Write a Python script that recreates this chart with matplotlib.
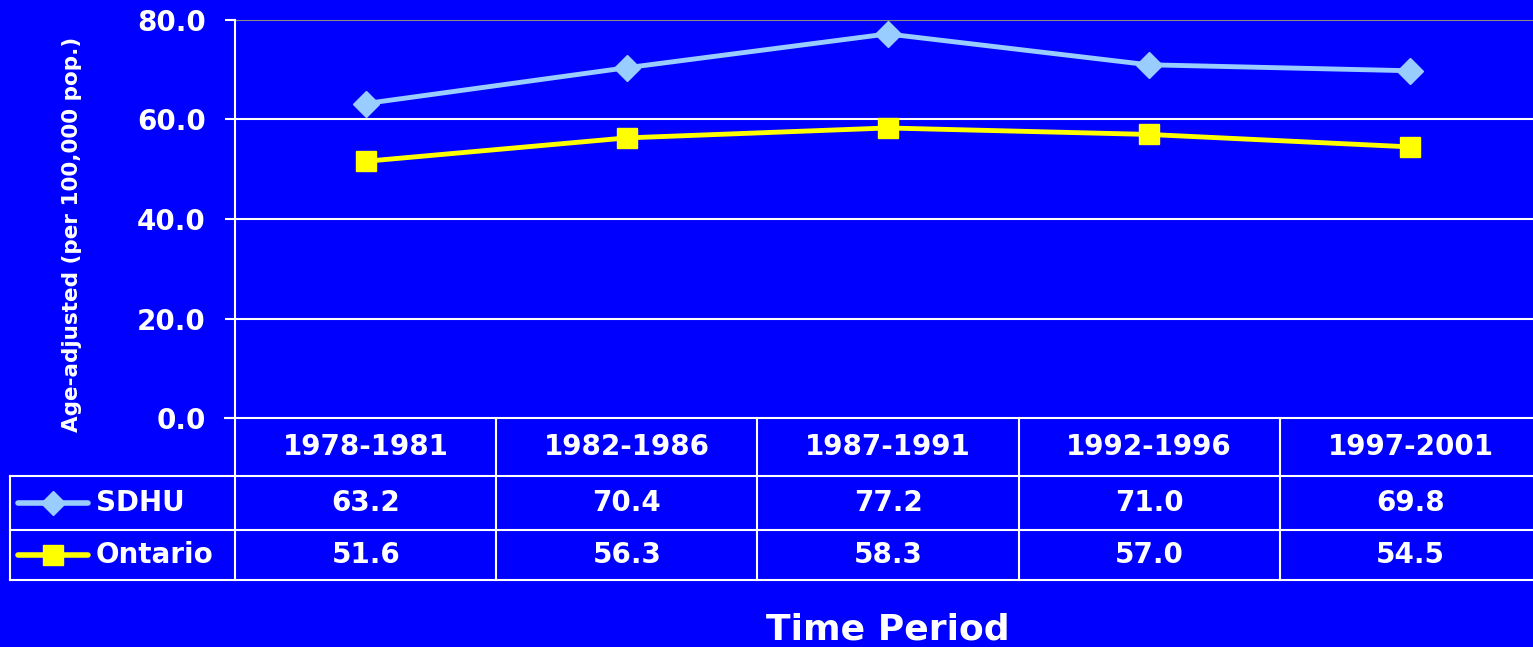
import matplotlib.pyplot as plt

plt.rcParams['font.family'] = ['DejaVu Sans']
plt.rcParams['font.weight'] = 'bold'

periods = ['1978-1981', '1982-1986', '1987-1991', '1992-1996', '1997-2001']
sdhu = [63.2, 70.4, 77.2, 71.0, 69.8]
ontario = [51.6, 56.3, 58.3, 57.0, 54.5]
series_names = ['SDHU', 'Ontario']
yticks = [0, 20, 40, 60, 80]

bg = '#0000FF'
sdhu_col = '#99CCFF'
ont_col = '#FFFF00'
W, H = 1533, 647

fig = plt.figure(figsize=(W / 100, H / 100), dpi=100, facecolor=bg)

# main plot area (right side runs slightly past the picture edge, as in the original)
ax = fig.add_axes([235 / W, (H - 418) / H, 1305 / W, 398 / H], facecolor=bg)
x = list(range(len(periods)))
ax.plot(x, sdhu, color=sdhu_col, lw=3.5, marker='D', ms=13, mec=sdhu_col, zorder=3)
ax.plot(x, ontario, color=ont_col, lw=3.5, marker='s', ms=15, mec=ont_col, zorder=3)
ax.set_xlim(-0.5, len(periods) - 0.5)
ax.set_ylim(0, 80)
ax.set_yticks(yticks)
ax.set_yticklabels([f'{v:.1f}' for v in yticks], color='white', fontsize=20, fontweight='bold')
ax.tick_params(axis='y', length=7, width=1.5, color='white', pad=14)
ax.set_xticks([])
for v in yticks[1:]:
    ax.axhline(v, color='#888888' if v == 80 else 'white', lw=1.5, zorder=1)
for s in ['top', 'right', 'bottom']:
    ax.spines[s].set_visible(False)
ax.spines['left'].set_color('white')
ax.spines['left'].set_linewidth(1.5)
fig.text(72 / W, 1 - 234 / H, 'Age-adjusted (per 100,000 pop.)', color='white',
         fontsize=15.5, fontweight='bold', rotation=90, ha='center', va='center')

# data table under the chart
tab = fig.add_axes([10 / W, (H - 580) / H, 1531 / W, 162 / H], facecolor='none')
left = -0.5 - 225 / 261
right = len(periods) - 0.5
tab.set_xlim(left, right)
rows = [0, 58, 112, 162]
tab.set_ylim(rows[-1], 0)
tab.axis('off')
lk = dict(color='white', lw=1.5, clip_on=False)
tab.plot([-0.5 - 10 / 261, right], [0, 0], **lk)
for r in rows[1:]:
    tab.plot([left, right], [r, r], **lk)
tab.plot([left, left], [rows[1], rows[-1]], **lk)
for c in range(len(periods)):
    tab.plot([c - 0.5, c - 0.5], [0, rows[-1]], **lk)

tk = dict(color='white', fontsize=20, fontweight='bold', ha='center', va='center')
for i, p in enumerate(periods):
    tab.text(i, (rows[0] + rows[1]) / 2, p, **tk)
for r, (name, vals, col, mk, ms) in enumerate([
        ('SDHU', sdhu, sdhu_col, 'D', 12), ('Ontario', ontario, ont_col, 's', 14)]):
    yc = (rows[r + 1] + rows[r + 2]) / 2
    for i, v in enumerate(vals):
        tab.text(i, yc, f'{v:.1f}', **tk)
    lx0 = left + 8 / 261
    lx1 = left + 78 / 261
    tab.plot([lx0, lx1], [yc, yc], color=col, lw=4, solid_capstyle='round', clip_on=False)
    tab.plot([(lx0 + lx1) / 2], [yc], marker=mk, ms=ms, color=col, mec=col, clip_on=False)
    tab.text(left + 86 / 261, yc, name, color='white', fontsize=20, fontweight='bold',
             ha='left', va='center')

fig.text(888 / W, 1 - 630 / H, 'Time Period', color='white', fontsize=26,
         fontweight='bold', ha='center', va='center')

fig.savefig('out.png', dpi=100, facecolor=bg)
